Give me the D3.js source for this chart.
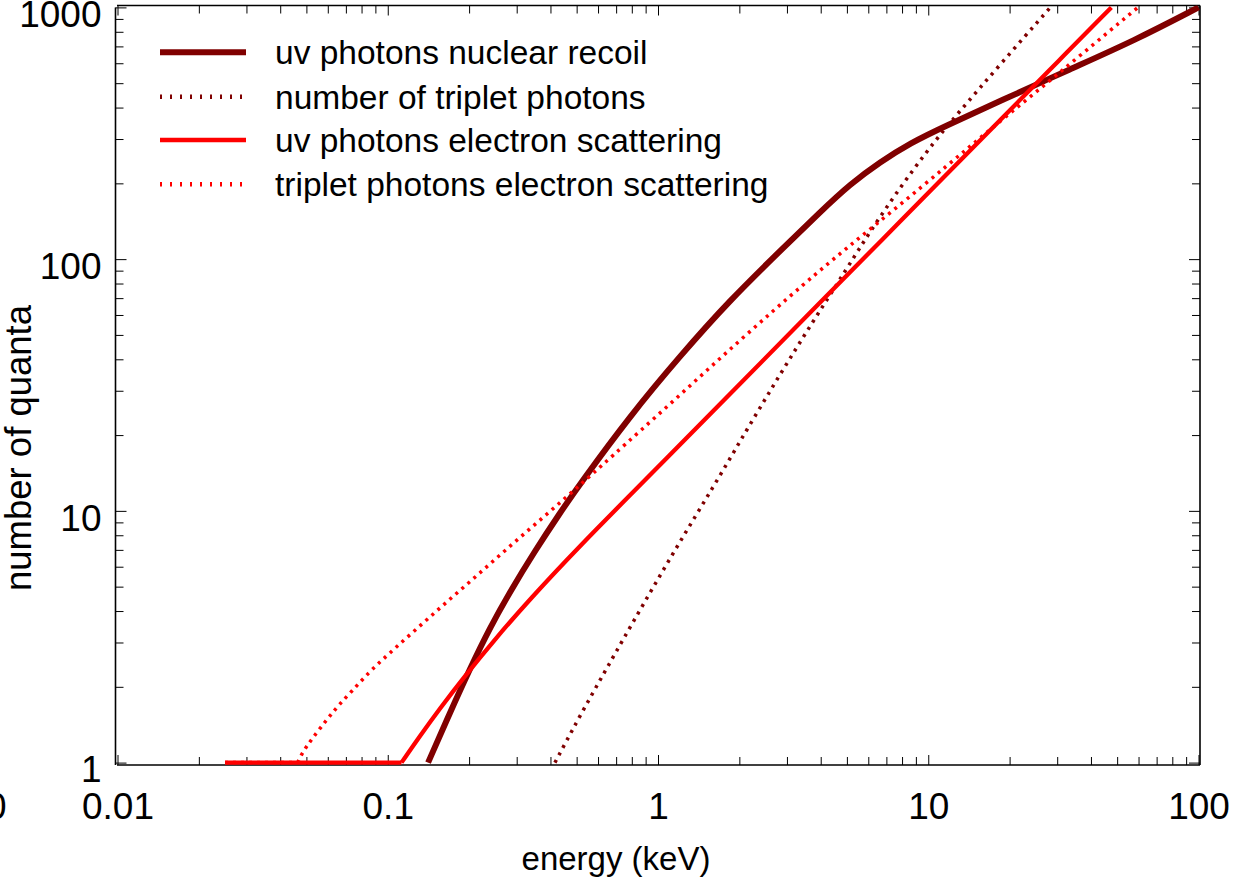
<!DOCTYPE html>
<html>
<head>
<meta charset="utf-8">
<script src="https://cdn.jsdelivr.net/npm/d3@7"></script>
<style>
  html, body { margin: 0; padding: 0; background: #fff; }
  svg { display: block; font-family: "Liberation Sans", Arial, Helvetica, sans-serif; }
</style>
</head>
<body>
<svg id="chart" width="1243" height="879"></svg>
<script>
// ---- data: energy (keV) vs number of quanta ----
const seriesNames = [
  "uv photons nuclear recoil",
  "number of triplet photons",
  "uv photons electron scattering",
  "triplet photons electron scattering"
];

const nrUvEnergy = [0.141, 0.1697, 0.2012, 0.2385, 0.283, 0.3503, 0.4336, 0.5142, 0.7875, 1.206,
                    1.848, 2.83, 3.981, 5.142, 6.641, 8.577, 11.56, 18.48, 33.57, 57.45, 100];
const nrUvQuanta = [1, 1.574, 2.354, 3.425, 4.762, 6.928, 9.807, 12.79, 23.82, 41.23,
                    68.82, 107.7, 153.9, 198.8, 243.2, 289.3, 338, 424.8, 569.2, 735, 1000];

const tripletEnergy = [0.4155, 0.46, 0.514, 0.61, 0.7875, 1.176, 1.6, 2.136, 2.83, 3.75,
                       4.6, 6.64, 9.92, 12.8, 18.5, 28.3];
const tripletQuanta = [1, 1.227, 1.53, 2.125, 3.45, 7.24, 12.4, 21.1, 34.9, 56.7,
                       79.6, 149.5, 271, 377, 595, 1000];

const esUvEnergy = [0.025, 0.1124, 0.1314, 0.1558, 0.1929, 0.249, 0.3357, 0.5068, 0.8577, 1,
                    2, 4, 7, 10, 20, 30, 47.6];
const esUvQuanta = [1, 1, 1.274, 1.64, 2.208, 3.086, 4.461, 7.154, 12.65, 14.95,
                    31.79, 67.59, 124.3, 183.2, 389.5, 605.5, 1000];

const esTripletEnergy = [0.025, 0.0464, 0.048, 0.0501, 0.0527, 0.0565, 0.061, 0.0664, 0.0736, 0.0822,
                         0.0934, 0.124, 0.165, 0.219, 0.29, 0.388, 0.514, 0.647, 1.14, 2.01,
                         3.56, 5.01, 7.68, 11.8, 16.5, 24.5, 36.6, 59.7];
const esTripletQuanta = [1, 1, 1.08, 1.16, 1.25, 1.38, 1.53, 1.71, 1.92, 2.19,
                         2.51, 3.3, 4.34, 5.66, 7.41, 9.7, 12.65, 15.8, 27.3, 47.7,
                         81.8, 111, 161, 236, 320, 452, 646, 1000];

const xTickValues = [0.01, 0.1, 1, 10, 100];
const xTickLabels = ["0.01", "0.1", "1", "10", "100"];
const yTickValues = [1, 10, 100, 1000];
const yTickLabels = ["1", "10", "100", "1000"];
const xOffscaleLabel = "0";
const xTitle = "energy (keV)";
const yTitle = "number of quanta";

// ---- appearance ----
const DARK = "#800000", RED = "#ff0000";
const styles = [
  { color: DARK, width: 6,   dash: null,    legendWidth: 6,   legendDash: null },
  { color: DARK, width: 3.5, dash: "3,5.5", legendWidth: 4.5, legendDash: "2,8" },
  { color: RED,  width: 4.3, dash: null,    legendWidth: 4.5, legendDash: null },
  { color: RED,  width: 3.5, dash: "3,5",   legendWidth: 4.5, legendDash: "2,8" }
];
const energies = [nrUvEnergy, tripletEnergy, esUvEnergy, esTripletEnergy];
const quanta = [nrUvQuanta, tripletQuanta, esUvQuanta, esTripletQuanta];

const frame = { left: 115.5, right: 1200, top: 5.5, bottom: 765 };
const FONT = "'Liberation Sans', Arial, sans-serif";

const svg = d3.select("#chart");
const x = d3.scaleLog().domain([0.01, 100]).range([117.5, 1198.5]);
const y = d3.scaleLog().domain([1, 1000]).range([762.6, 7.4]);

const isMajor = v => Math.abs(Math.log10(v) - Math.round(Math.log10(v))) < 1e-9;
const xMinor = x.ticks().filter(v => !isMajor(v));
const yMinor = y.ticks().filter(v => !isMajor(v));

const tickStyle = g => {
  g.select(".domain").remove();
  g.selectAll(".tick line").attr("stroke", "#000").attr("stroke-width", 1);
};

// minor ticks on all four sides (pointing inward)
svg.append("g").attr("transform", `translate(0,${frame.bottom})`)
  .call(d3.axisBottom(x).tickValues(xMinor).tickSize(-8).tickFormat(""))
  .call(tickStyle);
svg.append("g").attr("transform", `translate(0,${frame.top})`)
  .call(d3.axisTop(x).tickValues(xMinor).tickSize(-8).tickFormat(""))
  .call(tickStyle);
svg.append("g").attr("transform", `translate(${frame.left},0)`)
  .call(d3.axisLeft(y).tickValues(yMinor).tickSize(-8).tickFormat(""))
  .call(tickStyle);
svg.append("g").attr("transform", `translate(${frame.right},0)`)
  .call(d3.axisRight(y).tickValues(yMinor).tickSize(-8).tickFormat(""))
  .call(tickStyle);

// major ticks with labels on the bottom and left
const xAxis = svg.append("g").attr("transform", `translate(0,${frame.bottom})`)
  .call(d3.axisBottom(x).tickValues(xTickValues).tickSize(-10)
        .tickFormat((d, i) => xTickLabels[i]))
  .call(tickStyle);
xAxis.selectAll(".tick text")
  .attr("y", 54).attr("dy", null)
  .attr("fill", "#000").attr("font-size", 37)
  .attr("font-family", FONT);

svg.append("g").attr("transform", `translate(0,${frame.top})`)
  .call(d3.axisTop(x).tickValues(xTickValues).tickSize(-10).tickFormat(""))
  .call(tickStyle);

const yAxis = svg.append("g").attr("transform", `translate(${frame.left},0)`)
  .call(d3.axisLeft(y).tickValues(yTickValues).tickSize(-11)
        .tickFormat((d, i) => yTickLabels[i]))
  .call(tickStyle);
yAxis.selectAll(".tick text")
  .attr("x", -14).attr("y", 19.3).attr("dy", null)
  .attr("fill", "#000").attr("font-size", 37)
  .attr("font-family", FONT);

svg.append("g").attr("transform", `translate(${frame.right},0)`)
  .call(d3.axisRight(y).tickValues(yTickValues).tickSize(-11).tickFormat(""))
  .call(tickStyle);

// a label left of the first decade, partly outside the page
svg.append("text")
  .attr("x", 6.5).attr("y", frame.bottom + 54)
  .attr("text-anchor", "end").attr("font-size", 37)
  .text(xOffscaleLabel);

// frame
const frameG = svg.append("g").attr("stroke", "#000").attr("stroke-width", 1.6).attr("fill", "none");
frameG.append("line").attr("x1", frame.left).attr("x2", frame.left).attr("y1", 7.5).attr("y2", frame.bottom);
frameG.append("line").attr("x1", 117).attr("x2", frame.right).attr("y1", frame.bottom).attr("y2", frame.bottom);
frameG.append("line").attr("x1", 117).attr("x2", frame.right).attr("y1", frame.top).attr("y2", frame.top);
frameG.append("line").attr("x1", frame.right).attr("x2", frame.right).attr("y1", frame.top).attr("y2", frame.bottom);

// axis titles
svg.append("text")
  .attr("x", 616).attr("y", 870)
  .attr("text-anchor", "middle").attr("font-size", 33)
  .text(xTitle);
svg.append("text")
  .attr("transform", "translate(31,448) rotate(-90)")
  .attr("text-anchor", "middle").attr("font-size", 36.5)
  .text(yTitle);

// curves, clipped to the plot box
svg.append("clipPath").attr("id", "plotClip")
  .append("rect")
  .attr("x", frame.left).attr("y", frame.top)
  .attr("width", frame.right - frame.left).attr("height", frame.bottom - frame.top);

const curveGen = d3.line()
  .x(d => x(d[0])).y(d => y(d[1]))
  .curve(d3.curveBasis);
const straightGen = d3.line()
  .x(d => x(d[0])).y(d => y(d[1]));

// a leading floor segment is drawn straight so the knee stays sharp
function pieces(E, N) {
  const pts = E.map((e, i) => [e, N[i]]);
  let k = 0;
  while (k + 1 < pts.length && pts[k + 1][1] === pts[0][1]) k++;
  const out = [];
  if (k > 0) out.push({ pts: pts.slice(0, k + 1), flat: true });
  out.push({ pts: pts.slice(k), flat: false });
  return out;
}

const plot = svg.append("g").attr("clip-path", "url(#plotClip)");
seriesNames.forEach((name, i) => {
  const st = styles[i];
  pieces(energies[i], quanta[i]).forEach(p => {
    plot.append("path")
      .attr("d", p.flat ? straightGen(p.pts) : curveGen(p.pts))
      .attr("fill", "none")
      .attr("stroke", st.color)
      .attr("stroke-width", st.width)
      .attr("stroke-dasharray", st.dash)
      .attr("stroke-linejoin", "round");
  });
});

// legend
const legendRows = [52.3, 96.7, 140, 184.3];
const legend = svg.append("g");
seriesNames.forEach((name, i) => {
  const st = styles[i];
  legend.append("line")
    .attr("x1", 160).attr("x2", 246)
    .attr("y1", legendRows[i]).attr("y2", legendRows[i])
    .attr("stroke", st.color)
    .attr("stroke-width", st.legendWidth)
    .attr("stroke-dasharray", st.legendDash);
  legend.append("text")
    .attr("x", 275).attr("y", legendRows[i] + 12)
    .attr("font-size", 33.5)
    .text(name);
});
</script>
</body>
</html>
